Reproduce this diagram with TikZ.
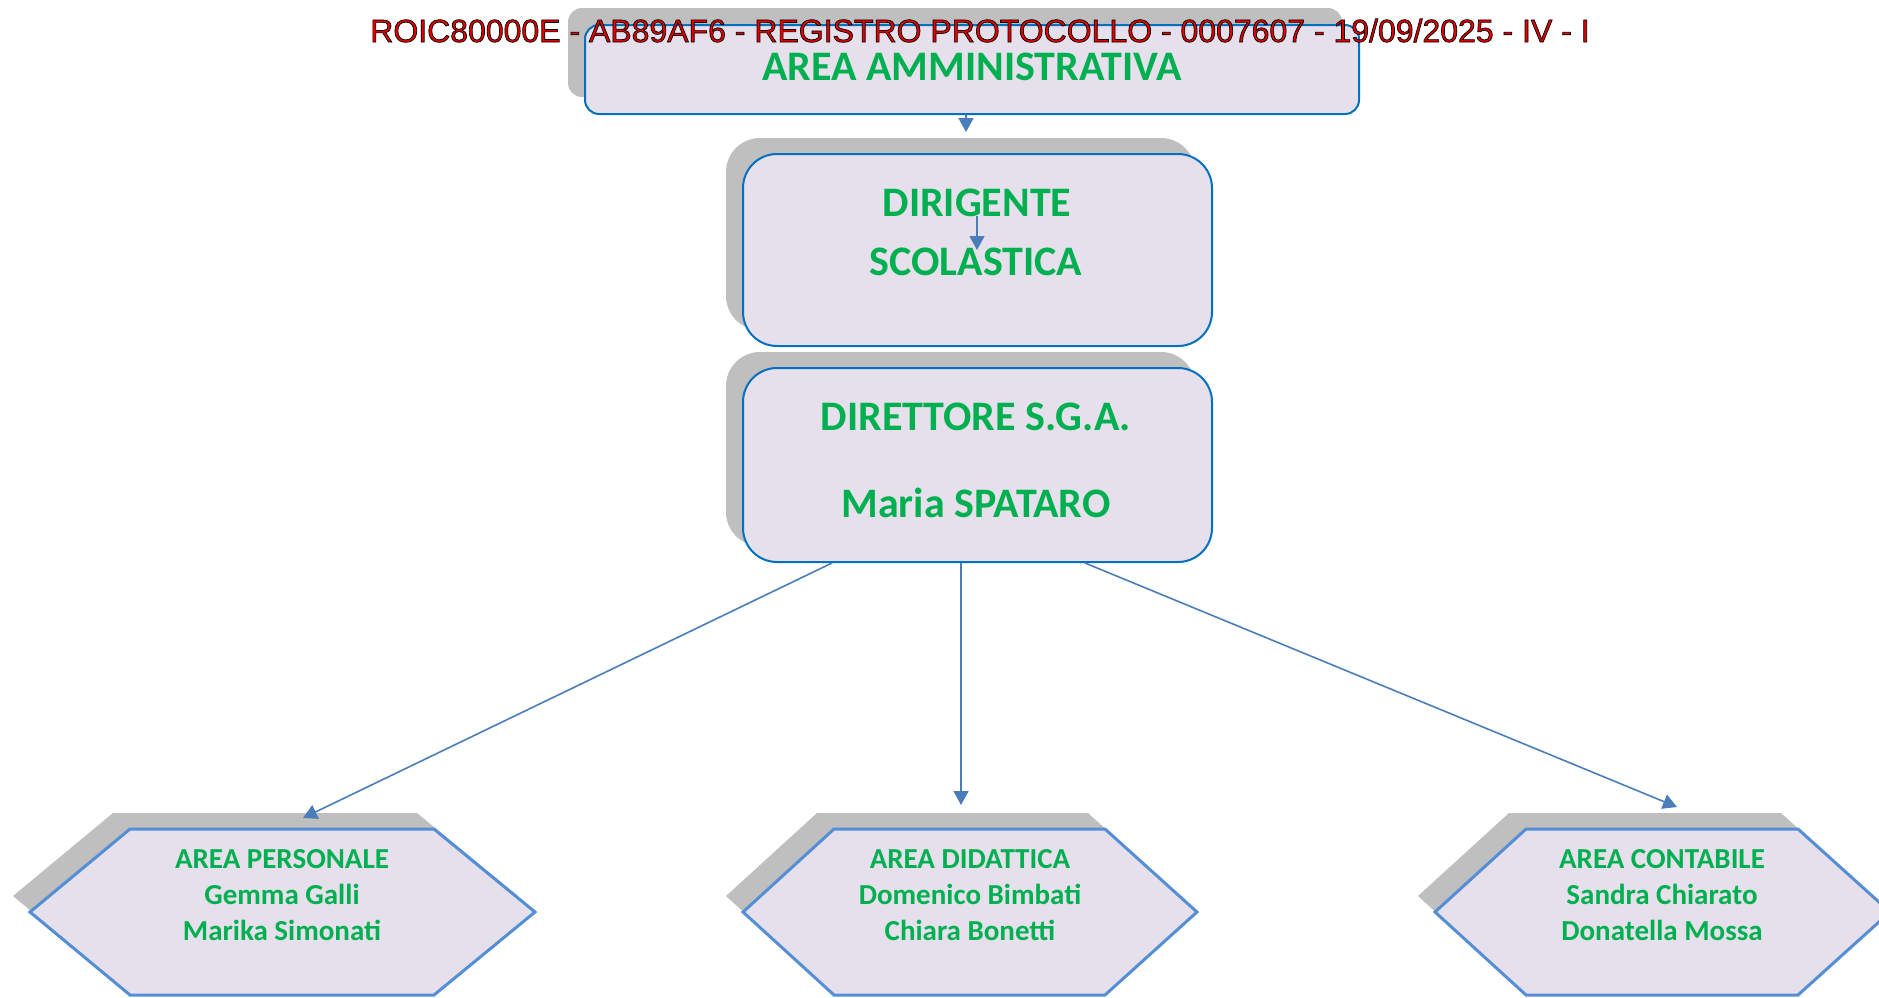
\documentclass[tikz,border=0pt]{standalone}
\usepackage{fontspec}
\setmainfont{Carlito}
\newfontfamily\hdrfont{Liberation Sans}
\usetikzlibrary{arrows.meta}
\definecolor{txtgreen}{HTML}{00B050}
\definecolor{boxfill}{HTML}{E6E0EC}
\definecolor{boxline}{HTML}{0070C0}
\definecolor{hexline}{HTML}{558ED5}
\definecolor{arrowcol}{HTML}{4A7EBB}
\definecolor{shadowgray}{HTML}{BFBFBF}
\definecolor{hdrred}{HTML}{E00000}
\newcommand{\hexpath}[4]{(#1,912) -- (#2,829) -- (#3,829) -- (#4,912) -- (#3,995) -- (#2,995) -- cycle}
\begin{document}
\begin{tikzpicture}[x=1pt,y=-1pt,
  rbox/.style={draw=boxline, fill=boxfill, line width=2pt, rounded corners=34pt, inner sep=0pt},
  rshadow/.style={fill=shadowgray, rounded corners=34pt, inner sep=0pt},
  bigtxt/.style={text=txtgreen, font=\fontsize{42}{50}\selectfont\bfseries, inner sep=0pt, anchor=base},
  hextxt/.style={text=txtgreen, font=\fontsize{29}{36}\selectfont\bfseries, inner sep=0pt, anchor=base},
  conn/.style={draw=arrowcol, line width=1.6pt, -{Triangle[width=15pt,length=14pt]}},
  hexbox/.style={draw=hexline, fill=boxfill, line width=3pt, line join=miter},
  hexshadow/.style={fill=shadowgray},
]
\useasboundingbox (0,0) rectangle (1879,997);

% shadows of rounded boxes
\node[rshadow, rounded corners=14pt, minimum width=774pt, minimum height=89pt] (ammsh) at (955,52.5) {};
\node[rshadow, minimum width=469pt, minimum height=192pt] (dirsh) at (960.5,234) {};
\node[rshadow, minimum width=469pt, minimum height=194pt] (dsgash) at (960.5,449) {};

% rounded boxes
\node[rbox, rounded corners=14pt, minimum width=774pt, minimum height=89pt] (amm) at (972,69.5) {};
\node[rbox, minimum width=469pt, minimum height=192pt] (dir) at (977.5,250) {};
\node[rbox, minimum width=469pt, minimum height=194pt] (dsga) at (977.5,465) {};

% texts in rounded boxes
\node[bigtxt] (ammtxt) at (972,80) {AREA AMMINISTRATIVA};
\node[bigtxt] (dirtxtA) at (977,216) {DIRIGENTE};
\node[bigtxt] (dirtxtB) at (976,275) {SCOLASTICA};
\node[bigtxt] (dsgatxtA) at (976,430) {DIRETTORE S.G.A.};
\node[bigtxt] (dsgatxtB) at (976,517) {Maria SPATARO};

% hexagons
\fill[hexshadow, shift={(-17,-16)}] \hexpath{30}{130}{434}{535};
\fill[hexshadow, shift={(-17,-16)}] \hexpath{743}{834}{1105}{1197};
\fill[hexshadow, shift={(-17,-16)}] \hexpath{1435}{1526}{1798}{1890};
\draw[hexbox] \hexpath{30}{130}{434}{535};
\draw[hexbox] \hexpath{743}{834}{1105}{1197};
\draw[hexbox] \hexpath{1435}{1526}{1798}{1890};
\coordinate (hexP) at (282,912);
\coordinate (hexD) at (970,912);
\coordinate (hexC) at (1662,912);

\node[hextxt] (pA) at (282,868) {AREA PERSONALE};
\node[hextxt] (pB) at (282,904) {Gemma Galli};
\node[hextxt] (pC) at (282,940) {Marika Simonati};
\node[hextxt] (dA) at (970,868) {AREA DIDATTICA};
\node[hextxt] (dB) at (970,904) {Domenico Bimbati};
\node[hextxt] (dC) at (970,940) {Chiara Bonetti};
\node[hextxt] (cA) at (1662,868) {AREA CONTABILE};
\node[hextxt] (cB) at (1662,904) {Sandra Chiarato};
\node[hextxt] (cC) at (1662,940) {Donatella Mossa};

% connectors
\coordinate (ammout) at (amm.south -| 966,0);
\coordinate (dirin) at (966,132);
\draw[conn] (ammout) -- (dirin);
\coordinate (dsA) at (977,216);
\coordinate (dsB) at (977,250);
\draw[conn] (dsA) -- (dsB);
\coordinate (dL) at (dsga.south -| 832,0);
\coordinate (dM) at (dsga.south -| 961,0);
\coordinate (dR) at (dsga.south -| 1085,0);
\coordinate (hpIn) at (303,818);
\coordinate (hdIn) at (961,805);
\coordinate (hcIn) at (1677,807);
\draw[conn] (dL) -- (hpIn);
\draw[conn] (dM) -- (hdIn);
\draw[conn] (dR) -- (hcIn);

% header stamp
\node[anchor=base, inner sep=0pt, text=hdrred, font=\hdrfont\fontsize{32}{38}\selectfont] (hdr) at (980,42)
 {\special{pdf:literal direct 2 Tr 0 0 0 RG 0.7 w}ROIC80000E - AB89AF6 - REGISTRO PROTOCOLLO - 0007607 - 19/09/2025 - IV - I\special{pdf:literal direct 0 Tr}};
\end{tikzpicture}
\end{document}
